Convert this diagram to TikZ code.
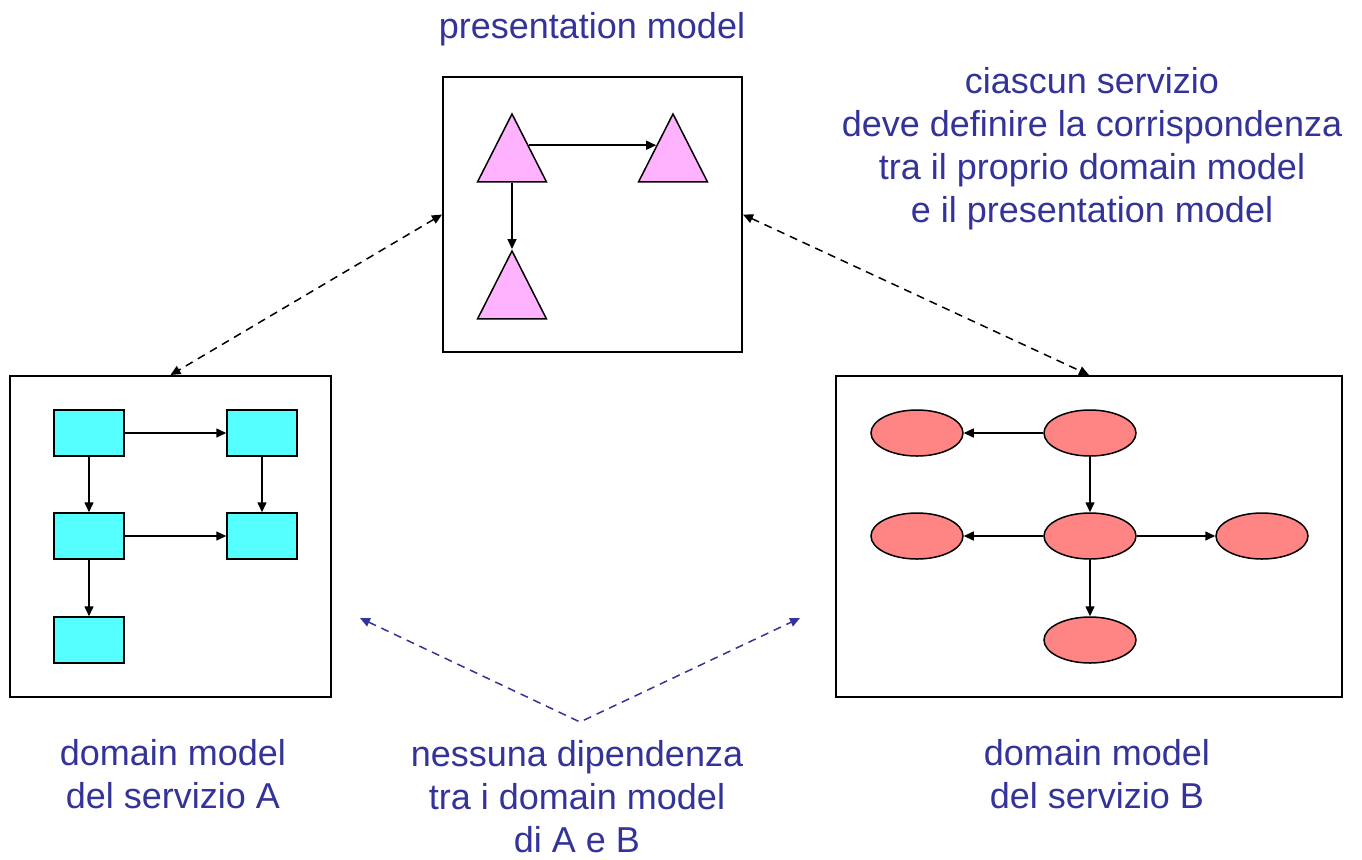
\documentclass[tikz,border=0pt]{standalone}
\usepackage{fontspec}
\setmainfont{Liberation Sans}
\usetikzlibrary{arrows.meta,shapes.geometric,calc}
\definecolor{txtblue}{HTML}{333399}
\definecolor{triapink}{HTML}{FFB3FF}
\definecolor{boxcyan}{HTML}{55FFFF}
\definecolor{ovalred}{HTML}{FF8484}

\begin{document}
\begin{tikzpicture}[x=0.5pt,y=-0.5pt,
  frame/.style={draw=black,line width=1pt,fill=white,minimum width=#1},
  tria/.style={draw=black,line width=0.75pt,fill=triapink,shape=isosceles triangle,anchor=apex,
    isosceles triangle stretches,shape border rotate=90,minimum width=34.5pt,minimum height=34pt},
  rbox/.style={draw=black,line width=0.75pt,fill=boxcyan,minimum width=35pt,minimum height=23pt},
  oval/.style={draw=black,line width=0.75pt,fill=ovalred,ellipse,minimum width=46pt,minimum height=23pt},
  link/.style={-{Triangle[length=5pt,width=4.5pt]},line width=0.75pt},
  dep/.style={{Triangle[length=5pt,width=4.5pt]}-{Triangle[length=5pt,width=4.5pt]},line width=0.75pt,dash pattern=on 4pt off 3pt},
  lbl/.style={text=txtblue,align=center,font=\fontsize{18}{21.5}\selectfont}]
\tikzset{every node/.append style={inner sep=0pt}}
\useasboundingbox (0,0) rectangle (1362,859);
% the three models
\node [frame=149.5pt,minimum height=137.5pt] (pres) at (592.5,214.5) {};
\node [frame=160.5pt,minimum height=160.5pt] (dmA) at (170.5,536.5) {};
\node [frame=253pt,minimum height=160.5pt] (dmB) at (1089,536.5) {};
% presentation model
\node [tria] (t1) at (512,112) {};
\node [tria] (t2) at (673,112) {};
\node [tria] (t3) at (512,249) {};
\draw [link] ($(t1.apex)!0.47!(t1.right corner)$) -- ($(t2.apex)!0.47!(t2.left corner)$);
\draw [link] (t1.lower side) -- (t3.apex);
% domain model A
\node [rbox] (a1) at (89,433) {};
\node [rbox] (a2) at (262,433) {};
\node [rbox] (a3) at (89,536) {};
\node [rbox] (a4) at (262,536) {};
\node [rbox] (a5) at (89,640) {};
\draw [link] (a1) -- (a2);
\draw [link] (a1) -- (a3);
\draw [link] (a2) -- (a4);
\draw [link] (a3) -- (a4);
\draw [link] (a3) -- (a5);
% domain model B
\node [oval] (b1) at (917,433) {};
\node [oval] (b2) at (1090,433) {};
\node [oval] (b3) at (917,536) {};
\node [oval] (b4) at (1090,536) {};
\node [oval] (b5) at (1262,536) {};
\node [oval] (b6) at (1090,640) {};
\draw [link] (b2) -- (b1);
\draw [link] (b2) -- (b4);
\draw [link] (b4) -- (b3);
\draw [link] (b4) -- (b5);
\draw [link] (b4) -- (b6);
% mappings
\draw [dep] (pres.west) -- (dmA.north);
\draw [dep] (pres.east) -- (dmB.north);
\coordinate (nodepA) at (360,618);
\coordinate (nodepB) at (800,618);
\coordinate (nodepV) at (580,722);
\draw [dep,txtblue] (nodepA) -- (nodepV) -- (nodepB);
% labels
\node [lbl] (presl) at (592,29) {presentation model};
\node [lbl] (mapl) at (1092,149) {ciascun servizio\\deve definire la corrispondenza\\tra il proprio domain model\\e il presentation model};
\node [lbl] (dmAl) at (173,774) {domain model\\del servizio A};
\node [lbl] (nodepl) at (577,797) {nessuna dipendenza\\tra i domain model\\di A e B};
\node [lbl] (dmBl) at (1097,774) {domain model\\del servizio B};
\end{tikzpicture}
\end{document}
